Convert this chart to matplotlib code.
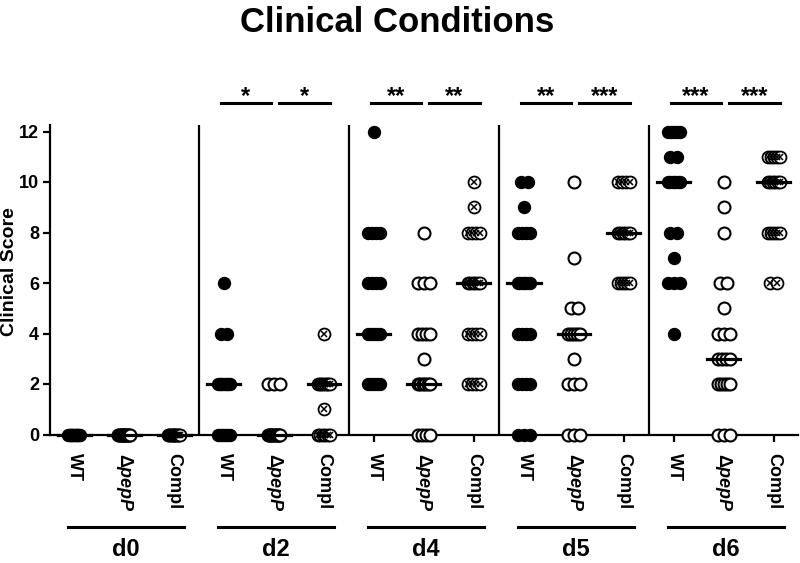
import matplotlib.pyplot as plt
import numpy as np
from matplotlib import transforms

plt.rcParams['font.family'] = ['Liberation Sans', 'DejaVu Sans']
plt.rcParams['mathtext.fontset'] = 'custom'
plt.rcParams['mathtext.it'] = 'Liberation Sans:italic:bold'
plt.rcParams['mathtext.rm'] = 'Liberation Sans:bold'

days = ['d0', 'd2', 'd4', 'd5', 'd6']
strains = ['WT', 'Δ$\\mathit{pepP}$', 'Compl']

# (score, number of mice)
d0_wt = [(0, 15)]
d0_pep = [(0, 14)]
d0_compl = [(0, 14)]
d2_wt = [(6, 1), (4, 2), (2, 8), (0, 7)]
d2_pep = [(2, 3), (0, 12)]
d2_compl = [(4, 1), (2, 8), (1, 1), (0, 6)]
d4_wt = [(12, 1), (8, 4), (6, 4), (4, 5), (2, 5)]
d4_pep = [(8, 1), (6, 3), (4, 4), (3, 1), (2, 6), (0, 4)]
d4_compl = [(10, 1), (9, 1), (8, 4), (6, 6), (4, 4), (2, 4)]
d5_wt = [(10, 2), (9, 1), (8, 4), (6, 6), (4, 4), (2, 4), (0, 3)]
d5_pep = [(10, 1), (7, 1), (5, 2), (4, 5), (3, 1), (2, 3), (0, 3)]
d5_compl = [(10, 4), (8, 6), (6, 5)]
d6_wt = [(12, 5), (11, 2), (10, 6), (8, 2), (7, 1), (6, 3), (4, 1)]
d6_pep = [(10, 1), (9, 1), (8, 1), (6, 2), (5, 1), (4, 3), (3, 4), (2, 5), (0, 3)]
d6_compl = [(11, 5), (10, 6), (8, 5), (6, 2)]

groups = [d0_wt, d0_pep, d0_compl, d2_wt, d2_pep, d2_compl,
          d4_wt, d4_pep, d4_compl, d5_wt, d5_pep, d5_compl,
          d6_wt, d6_pep, d6_compl]
sig_marks = [None, ('*', '*'), ('**', '**'), ('**', '***'), ('***', '***')]

fig = plt.figure(figsize=(8, 5.63), dpi=100)
ax = fig.add_axes([50/800, 128.5/563, 748/800, 12.25*25.25/563])

ms = 8.6
for k, grp in enumerate(groups):
    strain = k % 3
    allv = []
    for val, n in grp:
        half = min((n - 1) * 0.07, 0.12)
        xs = k + np.linspace(-half, half, n)
        ys = np.full(n, val)
        allv += [val] * n
        if strain == 0:
            ax.plot(xs, ys, 'o', color='black', ms=ms, clip_on=False, zorder=3)
        elif strain == 1:
            ax.plot(xs, ys, 'o', mfc='white', mec='black', mew=1.5, ms=ms, clip_on=False, zorder=3)
        else:
            ax.plot(xs, ys, 'o', mfc='white', mec='black', mew=1.3, ms=ms, clip_on=False, zorder=3)
            ax.plot(xs, ys, 'x', color='black', mew=1.1, ms=4.8, clip_on=False, zorder=4)
    med = np.median(allv)
    ax.plot([k - 0.33, k + 0.33], [med, med], color='black', lw=2.3, clip_on=False, zorder=5)

# dividers between days
for d in [2.5, 5.5, 8.5, 11.5]:
    ax.axvline(d, color='black', lw=1.6)

# significance bars
for i, marks in enumerate(sig_marks):
    if marks is None:
        continue
    b = 3 * i
    for (x0, x1), s in zip([(b - 0.06, b + 0.94), (b + 1.1, b + 2.12)], marks):
        ax.plot([x0, x1], [13.13, 13.13], color='black', lw=2.2, clip_on=False)
        ax.text((x0 + x1) / 2, 13.12, s, ha='center', va='baseline',
                fontsize=17, fontweight='bold', clip_on=False)

ax.set_xlim(-0.48, 14.48)
ax.set_ylim(0, 12.25)
ax.set_yticks(range(0, 13, 2))
ax.set_xticks(range(15))
ax.set_xticklabels(strains * 5, rotation=-90, va='top', ha='center',
                   fontsize=13, fontweight='bold')
for lab in ax.get_yticklabels():
    lab.set_fontweight('bold')
    lab.set_fontsize(13)
ax.tick_params(axis='x', length=5, width=1.6, pad=8)
ax.tick_params(axis='y', length=5, width=1.6, pad=3)
for s in ['top', 'right']:
    ax.spines[s].set_visible(False)
for s in ['left', 'bottom']:
    ax.spines[s].set_linewidth(1.6)

# day underlines and labels below the axis
tr = transforms.blended_transform_factory(ax.transData, fig.transFigure)
for i, day in enumerate(days):
    c = 3 * i + 1
    ax.plot([c - 1.12, c + 1.2], [1 - 527/563] * 2, color='black', lw=2.2,
            transform=tr, clip_on=False)
    ax.text(c + 0.04, 1 - 556/563, day, transform=tr, ha='center', va='baseline',
            fontsize=17, fontweight='bold')

fig.text(10/800, 1 - 272/563, 'Clinical Score', rotation=90, ha='center', va='center',
         fontsize=14, fontweight='bold')
fig.text(397/800, 1 - 22/563, 'Clinical Conditions', ha='center', va='center',
         fontsize=25, fontweight='bold')

fig.savefig('out.png', dpi=100)
